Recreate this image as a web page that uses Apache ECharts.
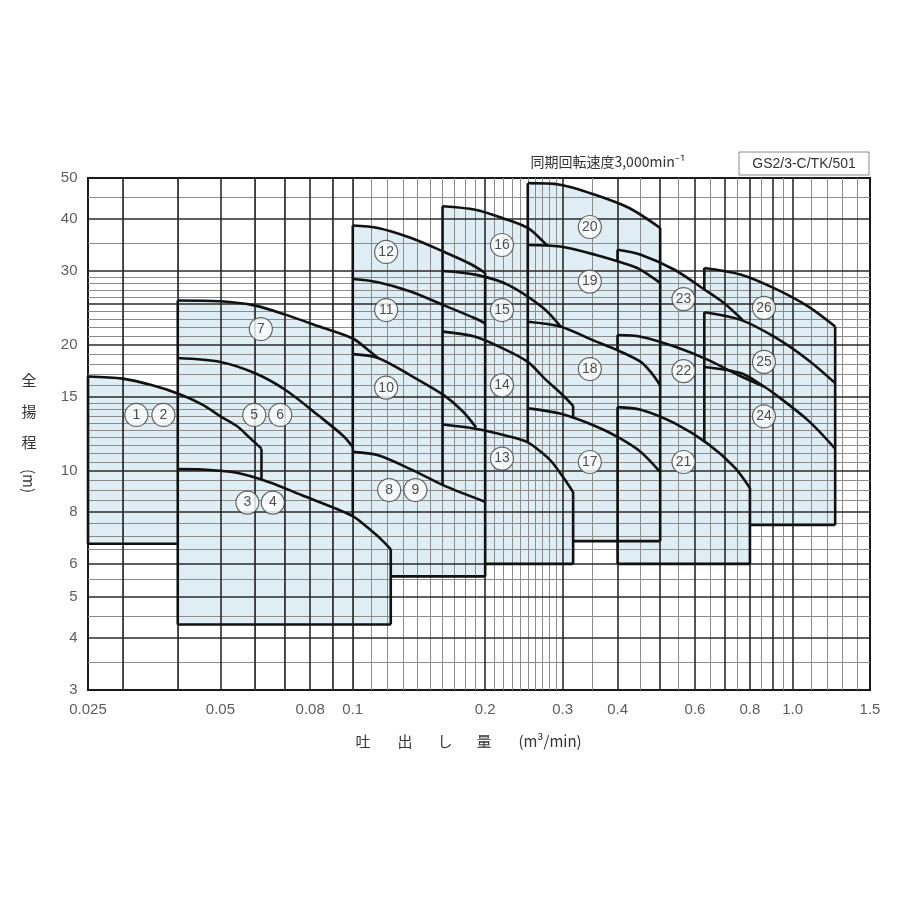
<!DOCTYPE html>
<html><head><meta charset="utf-8">
<script src="https://cdn.jsdelivr.net/npm/echarts@6/dist/echarts.min.js"></script>
<style>html,body{margin:0;padding:0;background:#fff}#c{width:900px;height:900px}</style>
</head><body><div id="c"></div>
<script>
// ---- axis ticks / labels ----
const xTickLabels = [0.025, 0.05, 0.08, 0.1, 0.2, 0.3, 0.4, 0.6, 0.8, 1.0, 1.5];
const yTickLabels = [3, 4, 5, 6, 8, 10, 15, 20, 30, 40, 50];
const xGridThick = [0.03,0.04,0.05,0.06,0.07,0.08,0.09,0.1,0.2,0.3,0.4,0.5,0.6,0.7,0.8,0.9,1.0];
const xGridThin = [0.026,0.027,0.028,0.029,0.035,0.045,0.055,0.065,0.075,0.085,0.095,
  0.11,0.12,0.13,0.14,0.15,0.16,0.17,0.18,0.19,0.21,0.22,0.23,0.24,0.25,0.26,0.27,0.28,0.29,
  0.35,0.45,0.55,0.65,0.75,0.85,0.95,1.1,1.2,1.3,1.4];
const yGridThick = [4,5,6,8,10,15,20,25,30,40];
const yGridThin = [3.5,4.5,5.5,6.5,7,7.5,8.5,9,9.5,10.5,11,11.5,12,12.5,13,13.5,14,14.5,
  16,17,18,19,21,22,23,24,26,27,28,29,35,45];

// ---- top curves of each model range [flow m3/min, head m] ----
const q12 = [[0.025,16.8],[0.03,16.6],[0.035,16.0],[0.04,15.3],[0.0455,14.4],[0.05,13.5],[0.0545,12.8],[0.0578,12.1],[0.062,11.3]];
const q34 = [[0.04,10.1],[0.0455,10.08],[0.0545,9.9],[0.0646,9.4],[0.0764,8.76],[0.0923,8.1],[0.1,7.8],[0.1057,7.47],[0.1151,6.92],[0.122,6.5]];
const q56 = [[0.04,18.6],[0.05,18.2],[0.06,17.1],[0.0703,15.6],[0.084,13.5],[0.0953,12.1],[0.1,11.4]];
const q7  = [[0.04,25.5],[0.05,25.4],[0.06,24.8],[0.0703,23.6],[0.084,22.1],[0.1,20.7],[0.1093,19.3],[0.1141,18.6]];
const q89 = [[0.1,11.1],[0.1141,10.9],[0.1353,10.1],[0.1604,9.25],[0.2,8.44]];
const q10 = [[0.1,19.0],[0.1141,18.6],[0.1353,16.9],[0.1604,15.2],[0.1775,13.9],[0.1907,12.7]];
const q11 = [[0.1,28.7],[0.1141,28.2],[0.1353,26.8],[0.1604,24.9],[0.1901,23.1],[0.2,22.5]];
const q12b = [[0.1,38.5],[0.1141,38.0],[0.1353,36.0],[0.1604,33.4],[0.1838,31.3],[0.2,29.7]];
const q13 = [[0.16,12.9],[0.19,12.6],[0.2255,12.1],[0.25,11.7],[0.2707,11.0],[0.2836,10.5],[0.3021,9.6],[0.317,8.9]];
const q14 = [[0.16,21.5],[0.19,20.9],[0.2193,19.6],[0.25,18.2],[0.2731,16.6],[0.2996,15.2],[0.317,14.3]];
const q15 = [[0.16,30.0],[0.19,29.4],[0.2255,27.8],[0.2707,24.5],[0.297,22.1]];
const q16 = [[0.16,42.8],[0.19,42.0],[0.2193,40.1],[0.25,38.0],[0.2731,35.0],[0.2777,34.45]];
const q17 = [[0.25,14.1],[0.296,13.7],[0.3556,12.8],[0.4,12.05],[0.4517,11.1],[0.5,9.94]];
const q18 = [[0.25,22.7],[0.296,22.1],[0.3556,20.4],[0.4,19.4],[0.4517,18.2],[0.4805,17.0],[0.5,16.0]];
const q19 = [[0.25,34.6],[0.296,34.3],[0.3556,32.8],[0.4252,31.0],[0.4517,30.2],[0.5,28.1]];
const q20 = [[0.25,48.6],[0.296,48.2],[0.3556,45.6],[0.4252,42.4],[0.5,38.0]];
const q21 = [[0.4,14.2],[0.4517,14.0],[0.539,13.0],[0.6422,11.6],[0.7382,10.2],[0.8,9.1]];
const q22 = [[0.4,21.1],[0.4517,20.9],[0.539,19.8],[0.6422,18.4],[0.7645,16.8],[0.861,15.9]];
const q23 = [[0.4,33.7],[0.4517,32.8],[0.539,30.2],[0.63,27.1],[0.7,25.1],[0.7707,22.9]];
const q24 = [[0.63,17.7],[0.7645,17.1],[0.861,15.9],[0.9078,15.3],[1.0845,13.2],[1.25,11.3]];
const q25 = [[0.63,23.9],[0.7645,22.9],[0.9078,20.9],[1.0845,18.4],[1.25,16.2]];
const q26 = [[0.63,30.5],[0.7645,29.4],[0.9078,27.3],[1.0845,24.7],[1.25,22.1]];

// vertical edges [flow, headLow, headHigh]
const vEdges = [[0.025,6.7,16.8],[0.062,9.5,11.3],[0.04,4.3,25.5],[0.1,7.8,38.5],[0.122,4.3,6.5],
  [0.16,9.25,42.8],[0.2,5.6,29.7],[0.25,11.7,48.6],[0.317,13.4,14.3],[0.317,6.0,8.9],[0.5,6.8,38.0],
  [0.4,31.6,33.7],[0.4,19.4,21.1],[0.4,6.0,14.2],[0.63,27.1,30.5],[0.63,11.75,23.9],[0.8,6.0,9.1],[1.25,7.43,22.1]];
// horizontal bottoms [head, flowFrom, flowTo]
const hEdges = [[6.7,0.025,0.04],[4.3,0.04,0.122],[5.6,0.122,0.2],[6.0,0.2,0.317],[6.8,0.317,0.5],[6.0,0.4,0.8],[7.43,0.8,1.25]];

// model number labels
const labelNames = ['1','2','3','4','5','6','7','8','9','10','11','12','13','14','15','16','17','18','19','20','21','22','23','24','25','26'];
const labelX = [0.0322,0.0371,0.0576,0.0658,0.0597,0.0684,0.0618,0.121,0.1388,0.1191,0.1191,0.1191,0.2184,0.2184,0.2184,0.2184,0.346,0.346,0.346,0.346,0.565,0.565,0.565,0.861,0.861,0.861];
const labelY = [13.6,13.6,8.4,8.4,13.6,13.6,21.8,9.0,9.0,15.8,24.2,33.3,10.7,16.0,24.2,34.6,10.5,17.5,28.3,38.2,10.5,17.3,25.7,13.5,18.2,24.5];

const FILL = '#dfedf4';
const LINE = '#111';
const upto = (arr, xm) => arr.filter(p => p[0] <= xm + 1e-9);
const from = (arr, xm) => arr.filter(p => p[0] >= xm - 1e-9);
const fillPolys = [
  [[0.025,6.7], ...upto(q12,0.04), [0.04,6.7]],
  [[0.04,4.3], ...upto(q7,0.1), ...from(q34,0.1), [0.122,4.3]],
  [[0.1,5.6], ...q12b, [0.2,5.6]],
  [[0.16,6.0], ...upto(q16,0.25), [0.25,6.0]],
  [[0.25,6.0], ...q20, [0.5,6.8], [0.317,6.8], [0.317,6.0]],
  [[0.4,6.0], ...upto(q23,0.63), [0.63,11.75], ...from(q21,0.64), [0.8,6.0]],
  [[0.63,7.43], ...q26, [1.25,7.43]]
];
const curveList = [q12,q34,q56,q7,q89,q10,q11,q12b,q13,q14,q15,q16,q17,q18,q19,q20,q21,q22,q23,q24,q25,q26];

const chart = echarts.init(document.getElementById('c'));
const series = [];
series.push({
  type:'custom', coordinateSystem:'cartesian2d', z:1, silent:true, animation:false, clip:true,
  data: fillPolys.map(p => p[1]),
  renderItem: function(params, api){
    const pts = fillPolys[params.dataIndex].map(p => api.coord(p));
    return {type:'polygon', shape:{points:pts}, style:{fill:FILL, stroke:null}};
  }
});
const mlData = [];
xGridThin.forEach(v => mlData.push({xAxis:v, lineStyle:{color:'#8c8c8c', width:1, type:'solid'}}));
yGridThin.forEach(v => mlData.push({yAxis:v, lineStyle:{color:'#8c8c8c', width:1, type:'solid'}}));
xGridThick.forEach(v => mlData.push({xAxis:v, lineStyle:{color:'#2a2a2a', width:1.6, type:'solid'}}));
yGridThick.forEach(v => mlData.push({yAxis:v, lineStyle:{color:'#2a2a2a', width:1.6, type:'solid'}}));
series.push({
  type:'line', data:[[0.1,10]], symbol:'none', lineStyle:{width:0}, z:2, silent:true, animation:false,
  markLine:{silent:true, symbol:['none','none'], label:{show:false}, z:3, animation:false, data:mlData}
});
curveList.forEach(c => series.push({type:'line', data:c, symbol:'none', smooth:0.3, z:10, silent:true, animation:false,
  lineStyle:{color:LINE, width:2.6, join:'round'}}));
vEdges.forEach(e => series.push({type:'line', data:[[e[0],e[1]],[e[0],e[2]]], symbol:'none', z:10, silent:true, animation:false,
  lineStyle:{color:LINE, width:2.6}}));
hEdges.forEach(e => series.push({type:'line', data:[[e[1],e[0]],[e[2],e[0]]], symbol:'none', z:10, silent:true, animation:false,
  lineStyle:{color:LINE, width:2.6}}));
series.push({
  type:'scatter', z:20, silent:true, animation:false, clip:false, symbol:'circle', symbolSize:23,
  itemStyle:{color:'#fff', borderColor:'#444', borderWidth:1.2},
  label:{show:true, position:'inside', formatter:p => p.data[2], color:'#222', fontSize:14, fontFamily:'Liberation Sans'},
  data: labelNames.map((n,i) => [labelX[i], labelY[i], n])
});
series.push({
  type:'scatter', z:20, silent:true, animation:false, clip:false, symbolSize:1, itemStyle:{color:'rgba(0,0,0,0)'},
  label:{show:true, position:'bottom', distance:12, formatter:p => p.data[2], color:'#333', fontSize:15, fontFamily:'Liberation Sans'},
  data: xTickLabels.map(v => [v, 3, v === 1 ? '1.0' : String(v)])
});
series.push({
  type:'scatter', z:20, silent:true, animation:false, clip:false, symbolSize:1, itemStyle:{color:'rgba(0,0,0,0)'},
  label:{show:true, position:'left', distance:10, formatter:p => p.data[2], color:'#333', fontSize:15, fontFamily:'Liberation Sans'},
  data: yTickLabels.map(v => [0.025, v, String(v)])
});

const CJK = 'Noto Sans CJK JP';
chart.setOption({
  animation:false,
  grid:{left:88, right:30, top:178, bottom:210, show:true, borderColor:'#1a1a1a', borderWidth:2, backgroundColor:'#fff'},
  xAxis:{type:'log', logBase:10, min:0.025, max:1.5, axisLine:{show:false}, axisTick:{show:false}, axisLabel:{show:false}, splitLine:{show:false}, minorSplitLine:{show:false}},
  yAxis:{type:'log', logBase:10, min:3, max:50, axisLine:{show:false}, axisTick:{show:false}, axisLabel:{show:false}, splitLine:{show:false}, minorSplitLine:{show:false}},
  series: series,
  graphic:[
    {type:'text', x:608, y:162, style:{text:'同期回転速度3,000min⁻¹', fill:'#333', fontSize:14, fontFamily:CJK, align:'center', verticalAlign:'middle'}},
    {type:'rect', shape:{x:739, y:152, width:130, height:23}, style:{fill:'#fff', stroke:'#8a8a8a', lineWidth:1}},
    {type:'text', x:804, y:164, style:{text:'GS2/3-C/TK/501', fill:'#333', fontSize:14, fontFamily:'Liberation Sans', align:'center', verticalAlign:'middle'}},
    {type:'text', x:29, y:380, style:{text:'全', fill:'#333', fontSize:15, fontFamily:CJK, align:'center', verticalAlign:'middle'}},
    {type:'text', x:29, y:411, style:{text:'揚', fill:'#333', fontSize:15, fontFamily:CJK, align:'center', verticalAlign:'middle'}},
    {type:'text', x:29, y:442, style:{text:'程', fill:'#333', fontSize:15, fontFamily:CJK, align:'center', verticalAlign:'middle'}},
    {type:'text', x:29, y:481, rotation:-Math.PI/2, style:{text:'(m)', fill:'#333', fontSize:15, fontFamily:CJK, align:'center', verticalAlign:'middle'}},
    {type:'text', x:363, y:741, style:{text:'吐', fill:'#333', fontSize:15, fontFamily:CJK, align:'center', verticalAlign:'middle'}},
    {type:'text', x:405, y:741, style:{text:'出', fill:'#333', fontSize:15, fontFamily:CJK, align:'center', verticalAlign:'middle'}},
    {type:'text', x:445, y:741, style:{text:'し', fill:'#333', fontSize:15, fontFamily:CJK, align:'center', verticalAlign:'middle'}},
    {type:'text', x:484, y:741, style:{text:'量', fill:'#333', fontSize:15, fontFamily:CJK, align:'center', verticalAlign:'middle'}},
    {type:'text', x:550, y:741, style:{text:'(m³/min)', fill:'#333', fontSize:15, fontFamily:CJK, align:'center', verticalAlign:'middle'}}
  ]
});
</script></body></html>
